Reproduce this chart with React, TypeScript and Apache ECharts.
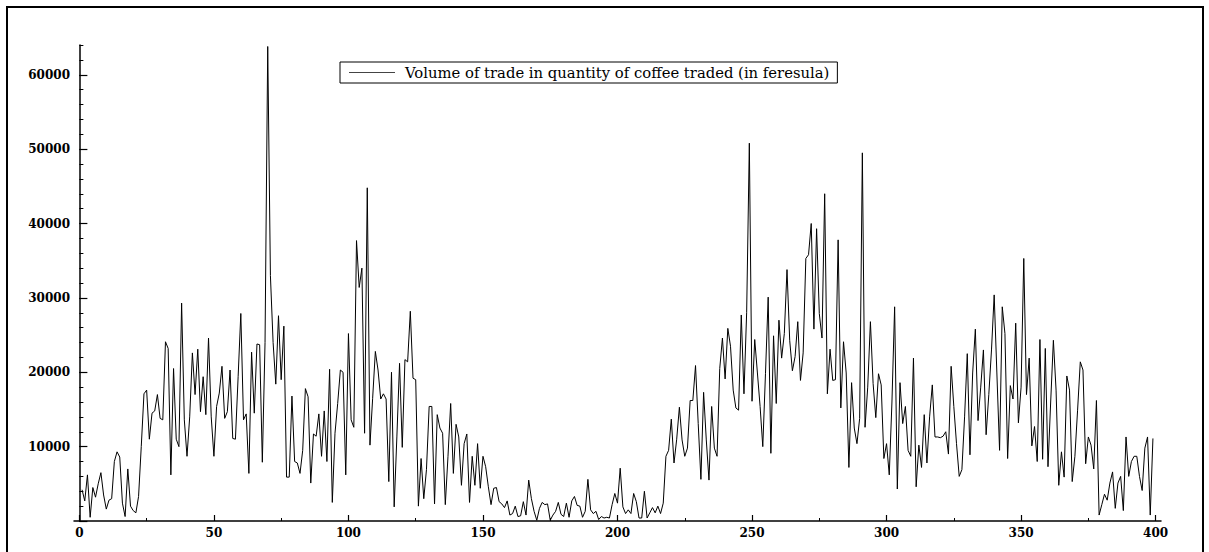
import React, { useEffect, useRef } from "react";
import * as echarts from "echarts";

const SERIES_NAME = "Volume of trade in quantity of coffee traded (in feresula)";

// observations 1..399 (quantity of coffee traded, feresula)
const VOLUME_1_50 = [
  4200, 2700, 6200, 500, 4500, 3200, 5000, 6500, 3500, 1600,
  2800, 3000, 8000, 9300, 8600, 2400, 600, 7000, 2000, 1400,
  1100, 3300, 10000, 17100, 17600, 11000, 14500, 14800, 17000, 13800,
  13600, 24100, 23200, 6200, 20500, 11000, 10000, 29300, 13600, 8700,
  14000, 22600, 17000, 23100, 14700, 19400, 14300, 24600, 14000, 8700,
];
const VOLUME_51_100 = [
  15400, 17200, 20800, 13800, 14700, 20300, 11100, 11000, 19400, 27900,
  13600, 14400, 6400, 22700, 14500, 23800, 23700, 7900, 24000, 63800,
  33000, 24000, 18400, 27600, 19000, 26200, 5900, 5900, 16800, 8000,
  7800, 6400, 9500, 17800, 16700, 5100, 11700, 11400, 14400, 8700,
  14800, 8000, 20400, 2500, 11800, 15800, 20300, 20000, 6200, 25200,
];
const VOLUME_101_150 = [
  13600, 12600, 37700, 31400, 34000, 11800, 44800, 10200, 16500, 22800,
  20300, 16400, 17100, 16400, 5300, 20000, 1900, 11300, 21200, 9900,
  21700, 21400, 28200, 19200, 19000, 2000, 8400, 3000, 6900, 15400,
  15400, 2300, 14300, 12500, 11800, 2200, 8700, 15800, 6400, 13000,
  11300, 4800, 10400, 11700, 2500, 8700, 4800, 10400, 4400, 8700,
];
const VOLUME_151_200 = [
  7300, 4600, 2200, 4400, 4500, 2600, 2300, 1800, 2700, 800,
  1000, 2000, 600, 700, 2600, 800, 5500, 3000, 1300, 100,
  1700, 2500, 2200, 2300, 100, 800, 1300, 2500, 900, 600,
  2400, 500, 2700, 3300, 2100, 2000, 500, 1300, 5600, 1500,
  1000, 1300, 200, 600, 400, 500, 400, 2200, 3700, 2400,
];
const VOLUME_201_250 = [
  7100, 1900, 1000, 1500, 1000, 3700, 2600, 400, 400, 4000,
  400, 1100, 1800, 1100, 2000, 1000, 2400, 8700, 9500, 13700,
  7800, 11000, 15300, 10900, 8700, 9800, 16200, 16200, 20900, 13100,
  5600, 17300, 10900, 5500, 15400, 9800, 8700, 20500, 24600, 19100,
  25900, 23500, 17600, 15200, 14900, 27700, 17100, 28000, 50800, 16100,
];
const VOLUME_251_300 = [
  24400, 19900, 15400, 10000, 19800, 30100, 9100, 24900, 15800, 27000,
  21900, 25200, 33800, 24300, 20200, 22100, 26800, 18900, 22600, 35300,
  35800, 40000, 25800, 39300, 27900, 24600, 44000, 17100, 23100, 18900,
  19000, 37800, 15200, 24100, 19900, 7200, 18600, 12500, 10400, 13800,
  49500, 12600, 18000, 26800, 18500, 13900, 19800, 18300, 8400, 10400,
];
const VOLUME_301_350 = [
  6200, 16000, 28800, 4300, 18600, 13100, 15400, 9500, 8700, 21900,
  4600, 10200, 7200, 14300, 7800, 14000, 18300, 11300, 11300, 11200,
  11400, 12000, 9000, 20800, 15400, 10400, 6000, 6900, 14000, 22500,
  8900, 19900, 25800, 13500, 18000, 23000, 11600, 17000, 23000, 30400,
  19900, 9500, 28800, 25200, 8400, 18200, 16400, 26600, 13200, 18000,
];
const VOLUME_351_399 = [
  35300, 17000, 21900, 10100, 12700, 8000, 24400, 8300, 23200, 7300,
  16000, 24300, 17600, 4800, 9300, 5900, 19500, 17600, 5300, 8700,
  14900, 21400, 20300, 7700, 11300, 10200, 7000, 16200, 800, 2200,
  3600, 2800, 5100, 6600, 1700, 5100, 6000, 1400, 11300, 6000,
  8000, 8700, 8700, 6000, 4100, 9800, 11300, 800, 11100,
];

const FIRST_OBSERVATION = 1;

const X_LABEL_VALUES = [0, 50, 100, 150, 200, 250, 300, 350, 400];
const X_MINOR_TICKS = [
  0, 25, 50, 75, 100, 125, 150, 175, 200, 225, 250, 275, 300, 325, 350, 375, 400,
];
const Y_LABEL_VALUES = [10000, 20000, 30000, 40000, 50000, 60000];
const Y_MAJOR_TICKS = [0, 10000, 20000, 30000, 40000, 50000, 60000];
const Y_MINOR_TICKS = [
  0, 2000, 4000, 6000, 8000, 10000, 12000, 14000, 16000, 18000, 20000, 22000,
  24000, 26000, 28000, 30000, 32000, 34000, 36000, 38000, 40000, 42000, 44000,
  46000, 48000, 50000, 52000, 54000, 56000, 58000, 60000, 62000, 64000,
];

const X_MIN = -2;
const X_MAX = 402;
const Y_MIN = 0;
const Y_MAX = 64000;

const FONT = "'DejaVu Serif', 'Liberation Serif', serif";

export default function App() {
  const ref = useRef<HTMLDivElement>(null);

  useEffect(() => {
    if (!ref.current) return;
    const chart = echarts.init(ref.current, undefined, { renderer: "svg" });

    const volume = [
      ...VOLUME_1_50,
      ...VOLUME_51_100,
      ...VOLUME_101_150,
      ...VOLUME_151_200,
      ...VOLUME_201_250,
      ...VOLUME_251_300,
      ...VOLUME_301_350,
      ...VOLUME_351_399,
    ];
    const data = volume.map((v, k) => [FIRST_OBSERVATION + k, v]);

    const axisLine = { show: true, lineStyle: { color: "#000", width: 1.5 } };
    const plain = (v: number) => String(v);

    chart.setOption({
      animation: false,
      backgroundColor: "#fff",
      graphic: [
        {
          type: "rect",
          shape: { x: 7, y: 7, width: 1196, height: 600 },
          style: { fill: "none", stroke: "#000", lineWidth: 2 },
          silent: true,
          z: 100,
        },
      ],
      legend: {
        show: true,
        left: 340,
        top: 62,
        orient: "horizontal",
        padding: [3, 8, 3, 9],
        borderColor: "#000",
        borderWidth: 1,
        itemWidth: 46,
        itemHeight: 1,
        icon: "rect",
        itemStyle: { color: "#444" },
        textStyle: {
          fontFamily: FONT,
          fontSize: 14.8,
          color: "#000",
          padding: [0, 0, 0, 5],
        },
        data: [SERIES_NAME],
      },
      grid: {
        left: 74,
        right: 48,
        top: 45,
        bottom: 31,
        containLabel: false,
      },
      xAxis: [
        {
          type: "value",
          min: X_MIN,
          max: X_MAX,
          position: "bottom",
          axisLine,
          axisTick: {
            show: true,
            inside: true,
            length: 3,
            customValues: X_MINOR_TICKS,
            lineStyle: { color: "#000", width: 1 },
          },
          axisLabel: {
            show: true,
            customValues: X_LABEL_VALUES,
            formatter: plain,
            margin: 6,
            color: "#000",
            fontFamily: FONT,
            fontWeight: "bold",
            fontSize: 12,
          },
          splitLine: { show: false },
        },
        {
          type: "value",
          min: X_MIN,
          max: X_MAX,
          position: "bottom",
          offset: 0,
          axisLine: { show: false },
          axisTick: {
            show: true,
            inside: true,
            length: 6,
            customValues: X_LABEL_VALUES,
            lineStyle: { color: "#000", width: 1.2 },
          },
          axisLabel: { show: false },
          splitLine: { show: false },
        },
      ],
      yAxis: [
        {
          type: "value",
          min: Y_MIN,
          max: Y_MAX,
          position: "left",
          axisLine,
          axisTick: {
            show: true,
            inside: true,
            length: 4,
            customValues: Y_MINOR_TICKS,
            lineStyle: { color: "#000", width: 1 },
          },
          axisLabel: {
            show: true,
            customValues: Y_LABEL_VALUES,
            formatter: plain,
            margin: 4,
            color: "#000",
            fontFamily: FONT,
            fontWeight: "bold",
            fontSize: 12,
          },
          splitLine: { show: false },
        },
        {
          type: "value",
          min: Y_MIN,
          max: Y_MAX,
          position: "left",
          offset: 0,
          axisLine: { show: false },
          axisTick: {
            show: true,
            inside: true,
            length: 8,
            customValues: Y_MAJOR_TICKS,
            lineStyle: { color: "#000", width: 1.2 },
          },
          axisLabel: { show: false },
          splitLine: { show: false },
        },
      ],
      series: [
        {
          name: SERIES_NAME,
          type: "line",
          xAxisIndex: 0,
          yAxisIndex: 0,
          data,
          showSymbol: false,
          symbol: "none",
          lineStyle: { color: "#000", width: 1 },
          itemStyle: { color: "#000" },
        },
      ],
    });

    return () => chart.dispose();
  }, []);

  return (
    <div
      ref={ref}
      style={{ position: "absolute", left: 0, top: 0, width: 1209, height: 552 }}
    />
  );
}
